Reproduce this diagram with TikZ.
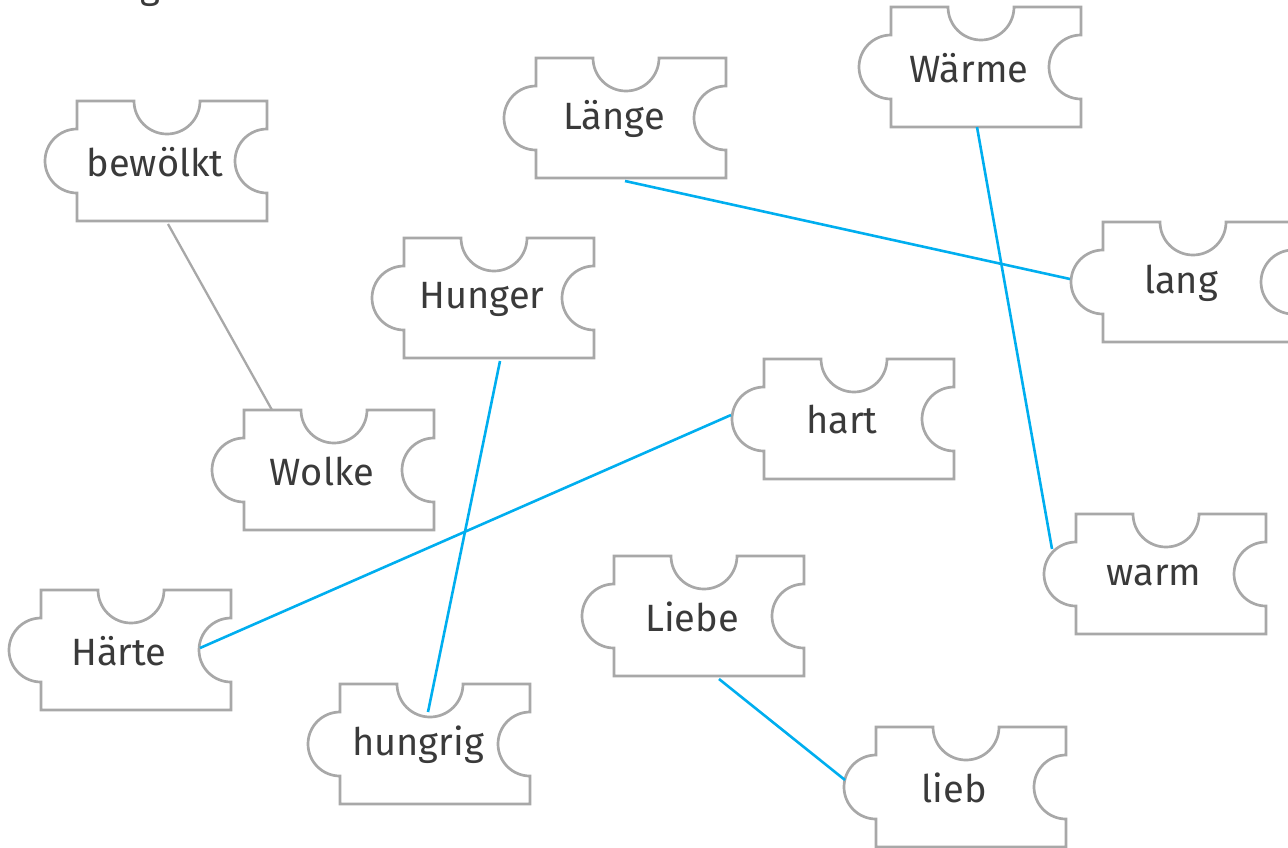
\documentclass[tikz,border=0pt]{standalone}
\usepackage{fontspec}
\setmainfont{Fira Sans}
\usetikzlibrary{calc}
\definecolor{piecegray}{HTML}{A8A8A8}
\definecolor{linkblue}{HTML}{00AEEF}
\definecolor{wordgray}{HTML}{3A3A3A}
\tikzset{
  edge/.style={piecegray,line width=2.7pt},
  link/.style={linkblue,line width=2.6pt},
  word/.style={text=wordgray,font=\fontsize{38}{44}\selectfont,inner sep=0pt},
  puzzle/.pic={
    \draw[edge] (0,0) -- (57,0) arc[start angle=180,end angle=360,radius=33pt]
      -- (190,0) -- (190,28) arc[start angle=90,end angle=270,radius=32pt]
      -- (190,120) -- (0,120) -- (0,92) arc[start angle=270,end angle=90,radius=32pt]
      -- cycle;
    \node[word] (-txt) at (78,61) {#1};
    \coordinate (-n) at (95,0);
    \coordinate (-top) at (90,33);
    \coordinate (-bot) at (95,123);
    \coordinate (-left) at (-32,60);
    \coordinate (-right) at (158,60);
  }
}
\begin{document}
\begin{tikzpicture}[x=1pt,y=-1pt]
  \useasboundingbox (0,0) rectangle (1288,847);
  \node[word,anchor=base] (head) at (150,-2) {g};
  \pic (bew) at (77,101) {puzzle=bewölkt};
  \pic (lae) at (536,58) {puzzle=Länge};
  \pic (wae) at (891,7) {puzzle=Wärme};
  \pic (lan) at (1103,222) {puzzle=lang};
  \pic (hun) at (404,238) {puzzle=Hunger};
  \pic (wol) at (244,410) {puzzle=Wolke};
  \pic (har) at (764,359) {puzzle=hart};
  \pic (war) at (1076,514) {puzzle=warm};
  \pic (hae) at (41,590) {puzzle=Härte};
  \pic (lie) at (614,556) {puzzle=Liebe};
  \pic (hug) at (340,684) {puzzle=hungrig};
  \pic (lib) at (876,727) {puzzle=lieb};
  \draw[edge,line width=2.3pt] ($(bew-bot)+(-4,0)$) -- ($(wol-n)+(-67,0)$);
  \draw[link] ($(lae-bot)+(-6,0)$) -- ($(lan-left)+(-1,-3)$);
  \draw[link] ($(wae-bot)+(-9,-3)$) -- ($(war-left)+(8,-25)$);
  \draw[link] ($(hun-bot)+(1,0)$) -- ($(hug-top)+(-2,-5)$);
  \draw[link] ($(har-left)+(-1,-4)$) -- ($(hae-right)+(1,-2)$);
  \draw[link] ($(lie-bot)+(10,0)$) -- ($(lib-left)+(1,-7)$);
\end{tikzpicture}
\end{document}
